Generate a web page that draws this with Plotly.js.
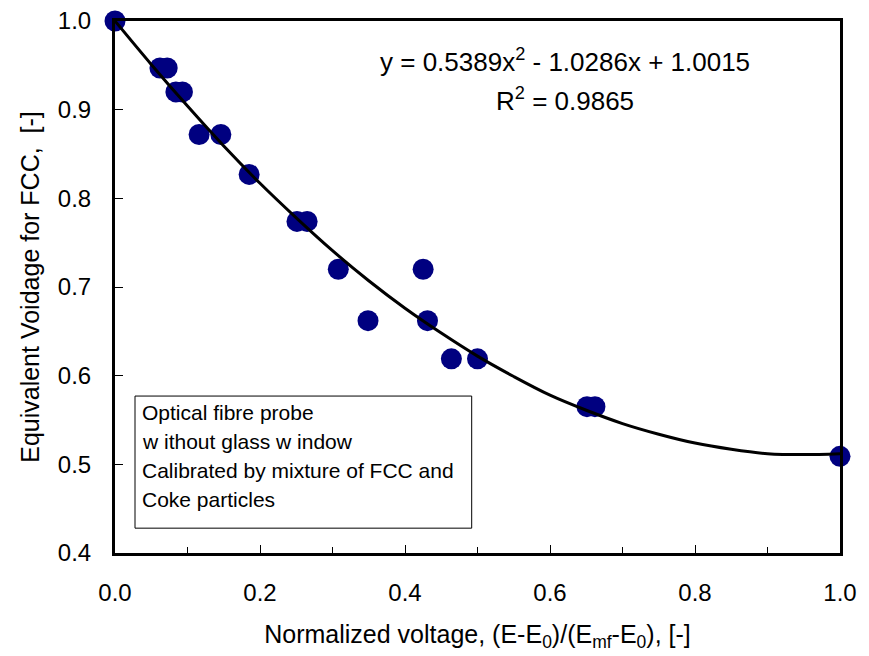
<!DOCTYPE html>
<html>
<head>
<meta charset="utf-8">
<script src="https://cdn.plot.ly/plotly-3.0.1.min.js"></script>
<style>html,body{margin:0;padding:0;background:#fff;}#chart{width:869px;height:656px;}</style>
</head>
<body>
<div id="chart"></div>
<script>
// Measured points
var voltage = [0.0, 0.062, 0.072, 0.084, 0.093, 0.116, 0.146, 0.185, 0.251, 0.265, 0.308, 0.349, 0.425, 0.431, 0.464, 0.500, 0.651, 0.662, 1.0];
var voidage = [1.0, 0.947, 0.947, 0.920, 0.920, 0.872, 0.872, 0.827, 0.774, 0.774, 0.720, 0.662, 0.720, 0.662, 0.619, 0.619, 0.565, 0.565, 0.509];
// Trendline
var fitX = [0.0, 0.05, 0.1, 0.15, 0.2, 0.25, 0.3, 0.35, 0.4, 0.45, 0.5, 0.55, 0.6, 0.65, 0.7, 0.75, 0.8, 0.85, 0.9, 0.95, 1.0];
var fitY = [1.000, 0.951, 0.904, 0.859, 0.817, 0.778, 0.741, 0.707, 0.676, 0.648, 0.622, 0.599, 0.578, 0.561, 0.546, 0.534, 0.524, 0.517, 0.512, 0.511, 0.512];
var xTicks = [0.0, 0.2, 0.4, 0.6, 0.8, 1.0];
var xTickText = ["0.0", "0.2", "0.4", "0.6", "0.8", "1.0"];
var yTicks = [0.4, 0.5, 0.6, 0.7, 0.8, 0.9, 1.0];
var yTickText = ["0.4", "0.5", "0.6", "0.7", "0.8", "0.9", "1.0"];
var equationText = "y = 0.5389x<sup>2</sup> - 1.0286x + 1.0015";
var r2Text = "R<sup>2</sup> = 0.9865";
var boxLines = ["Optical fibre probe", "w ithout glass w indow", "Calibrated by mixture of FCC and", "Coke particles"];

var font = "Liberation Sans, Arial, sans-serif";
var traces = [
  {x: voltage, y: voidage, type: "scatter", mode: "markers",
   marker: {color: "#000080", size: 21, line: {width: 0}}, cliponaxis: false, hoverinfo: "x+y"},
  {x: fitX, y: fitY, type: "scatter", mode: "lines",
   line: {color: "#000", width: 3, shape: "spline"}, cliponaxis: false}
];

var boxY = [0.559, 0.526, 0.493, 0.460];
var annotations = [
  {x: 0.62, y: 0.955, xref: "x", yref: "y", text: equationText, showarrow: false,
   font: {family: font, size: 26, color: "#000"}, xanchor: "center", yanchor: "middle"},
  {x: 0.62, y: 0.911, xref: "x", yref: "y", text: r2Text, showarrow: false,
   font: {family: font, size: 26, color: "#000"}, xanchor: "center", yanchor: "middle"}
];
boxLines.forEach(function(t, i) {
  annotations.push({x: 0.034, y: boxY[i], xref: "x", yref: "y", text: t, showarrow: false,
    font: {family: font, size: 21, color: "#000"}, xanchor: "left", yanchor: "middle"});
});

var layout = {
  width: 869, height: 656,
  margin: {l: 115, r: 29, t: 21, b: 103},
  paper_bgcolor: "#fff", plot_bgcolor: "#fff",
  showlegend: false,
  font: {family: font, size: 24, color: "#000"},
  xaxis: {
    range: [0, 1], tickvals: xTicks, ticktext: xTickText,
    showgrid: false, zeroline: false, showline: true, linewidth: 3, linecolor: "#000", mirror: true,
    ticks: "inside", ticklen: 8, tickwidth: 1, tickcolor: "#000", ticklabelstandoff: 16,
    minor: {dtick: 0.1, ticks: "inside", ticklen: 6, tickwidth: 1, tickcolor: "#000"},
    tickfont: {family: font, size: 24, color: "#000"},
    title: {text: "Normalized voltage, (E-E<sub>0</sub>)/(E<sub>mf</sub>-E<sub>0</sub>), [-]",
            font: {family: font, size: 25, color: "#000"}, standoff: 21}
  },
  yaxis: {
    range: [0.4, 1.0], tickvals: yTicks, ticktext: yTickText,
    showgrid: false, zeroline: false, showline: true, linewidth: 3, linecolor: "#000", mirror: true,
    ticks: "inside", ticklen: 8, tickwidth: 1, tickcolor: "#000", ticklabelstandoff: 16,
    tickfont: {family: font, size: 24, color: "#000"},
    title: {text: "Equivalent Voidage for FCC,\u00a0 [-]", font: {family: font, size: 25, color: "#000"}, standoff: 12}
  },
  shapes: [
    {type: "rect", xref: "x", yref: "y", x0: 0.0276, x1: 0.492, y0: 0.428, y1: 0.577,
     line: {color: "#000", width: 1}, fillcolor: "rgba(0,0,0,0)"}
  ],
  annotations: annotations
};

Plotly.newPlot("chart", traces, layout, {displayModeBar: false, staticPlot: true});
</script>
</body>
</html>
